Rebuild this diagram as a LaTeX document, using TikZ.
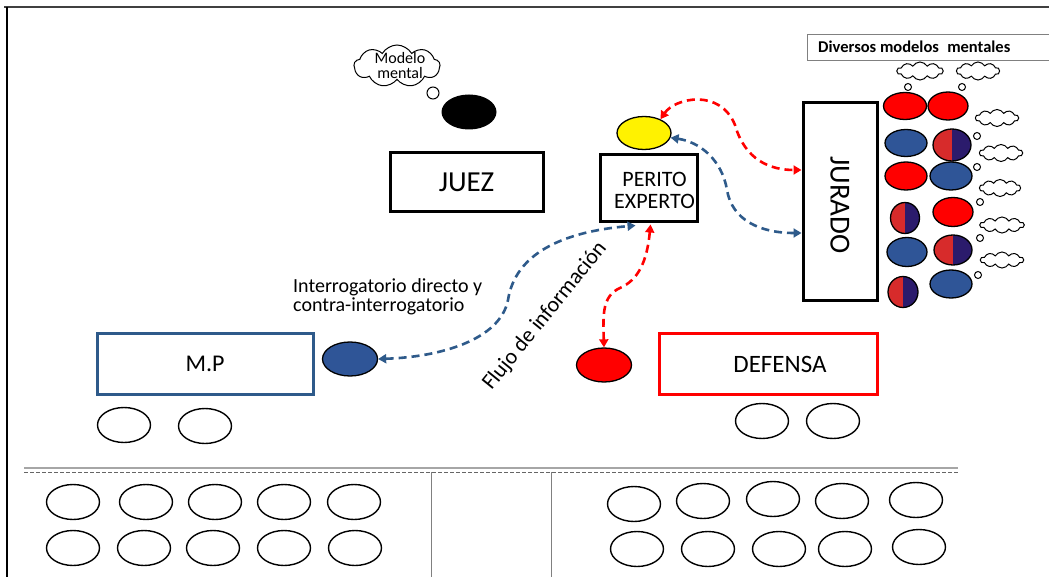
\documentclass[tikz,border=0pt]{standalone}
\usepackage{fontspec}
\setmainfont{Carlito}
\usetikzlibrary{shapes.geometric,shapes.symbols,arrows.meta,calc}

\definecolor{mpblue}{HTML}{2F5597}
\definecolor{lineblue}{HTML}{2E5A8A}
\definecolor{halfred}{HTML}{D72B2B}
\definecolor{halfnavy}{HTML}{2B1B6C}
\definecolor{framegray}{HTML}{404040}

\begin{document}
\begin{tikzpicture}[x=1pt,y=-1pt,
  seat/.style={ellipse,draw=black,line width=1.4pt,minimum width=53pt,minimum height=35pt,inner sep=0pt},
  juror/.style={ellipse,draw=black,line width=1.3pt,inner sep=0pt},
  redj/.style={juror,fill=red},
  bluej/.style={juror,fill=mpblue},
  splitj/.style={juror,path picture={
     \fill[halfred] (path picture bounding box.north west) rectangle (path picture bounding box.south);
     \fill[halfnavy] (path picture bounding box.north) rectangle (path picture bounding box.south east);}},
  thought/.style={cloud,cloud puffs=10,cloud puff arc=120,cloud ignores aspect,draw=black,line width=1pt,inner sep=0pt},
  bubble/.style={circle,draw=black,line width=1pt,inner sep=0pt,minimum size=7pt},
  roombox/.style={rectangle,draw=black,line width=3pt,inner sep=0pt},
  flowred/.style={draw=red,line width=2.6pt,dash pattern=on 8pt off 5pt,{Triangle[length=8pt,width=9pt]}-{Triangle[length=8pt,width=9pt]}},
  flowblue/.style={draw=lineblue,line width=2.6pt,dash pattern=on 8pt off 5pt,{Triangle[length=8pt,width=9pt]}-{Triangle[length=8pt,width=9pt]}},
  txt/.style={inner sep=0pt,text=black}
]
\useasboundingbox (0,0) rectangle (1049,577);
\fill[white] (0,0) rectangle (1049,577);
\clip (0,0) rectangle (1049,577);

% page frame
\draw[framegray,line width=2pt] (4,7) -- (1049,7);
\draw[black,line width=2pt] (7,7) -- (7,577);

% judge and the judge's mental model
\node[roombox,minimum width=153pt,minimum height=59pt,font=\fontsize{29}{34}\selectfont] (juez) at (466.5,182.5) {JUEZ};
\node[ellipse,fill=black,minimum width=55pt,minimum height=35pt,inner sep=0pt] (judgehead) at (469,112) {};
\node[bubble,minimum size=12pt] (judgebubble) at (433,93) {};
\node[thought,cloud puffs=9,minimum width=86pt,minimum height=42pt] (judgecloud) at (397,66) {};
\node[txt,align=center,font=\fontsize{16}{15}\selectfont] (cloudtext) at (400,66) {Modelo\\mental};

% expert witness
\node[ellipse,draw=black,line width=1.3pt,fill=yellow,minimum width=54pt,minimum height=33pt,inner sep=0pt] (exp) at (644,133) {};
\node[roombox,minimum width=97pt,minimum height=67pt] (perito) at (648.5,188.5) {};
\node[txt,align=center,font=\fontsize{22}{22}\selectfont] (peritotext) at (654.5,190) {PERITO\\EXPERTO};

% jury
\node[roombox,minimum width=74pt,minimum height=197pt] (jurado) at (840,201.5) {};
\node[txt,rotate=-90,font=\fontsize{29}{34}\selectfont] (juradotext) at (840,205) {JURADO};
\node[draw=gray,line width=1.2pt,anchor=north west,minimum width=250pt,minimum height=26pt,inner sep=0pt] (divbox) at (807,34) {};
\node[txt,anchor=west,font=\fontsize{16.5}{20}\selectfont\bfseries] (divtext) at (818,47)
  {Diversos modelos\hspace{0.5em}mentales};

\node[redj,minimum width=43pt,minimum height=27pt] (j11) at (905,106) {};
\node[bluej,minimum width=42pt,minimum height=27pt] (j12) at (906,143) {};
\node[redj,minimum width=42pt,minimum height=28pt] (j13) at (906,176) {};
\node[splitj,minimum width=29pt,minimum height=31pt] (j14) at (905,218) {};
\node[bluej,minimum width=40pt,minimum height=29pt] (j15) at (907,252) {};
\node[splitj,minimum width=30pt,minimum height=31pt] (j16) at (903,292) {};
\node[redj,minimum width=40pt,minimum height=28pt] (j21) at (948,106) {};
\node[splitj,minimum width=38pt,minimum height=32pt] (j22) at (952,145) {};
\node[bluej,minimum width=42pt,minimum height=28pt] (j23) at (951,176) {};
\node[redj,minimum width=40pt,minimum height=29pt] (j24) at (953,212) {};
\node[splitj,minimum width=38pt,minimum height=30pt] (j25) at (953,250) {};
\node[bluej,minimum width=42pt,minimum height=28pt] (j26) at (951,284) {};

% jurors' thoughts
\node[thought,minimum width=46pt,minimum height=18pt] (t1) at (920,71) {};
\node[thought,minimum width=43pt,minimum height=18pt] (t2) at (978,71) {};
\node[thought,minimum width=43pt,minimum height=17pt] (t3) at (997,118) {};
\node[thought,minimum width=43pt,minimum height=17pt] (t4) at (1001,153) {};
\node[thought,minimum width=41pt,minimum height=17pt] (t5) at (1000,188) {};
\node[thought,minimum width=44pt,minimum height=16pt] (t6) at (1002,225) {};
\node[thought,minimum width=43pt,minimum height=16pt] (t7) at (1002,260) {};
\node[bubble] (b1) at (908,87) {};
\node[bubble] (b2) at (962,87) {};
\node[bubble] (b3) at (977,136) {};
\node[bubble] (b4) at (977,167) {};
\node[bubble] (b5) at (980,202) {};
\node[bubble] (b6) at (980,238) {};
\node[bubble] (b7) at (978,275) {};

% prosecution and defence
\node[rectangle,draw=lineblue,line width=3pt,minimum width=216pt,minimum height=61pt,inner sep=0pt,font=\fontsize{24}{28}\selectfont] (mp) at (205,363.5) {M.P};
\node[ellipse,draw=black,line width=1.3pt,fill=mpblue,minimum width=55pt,minimum height=34pt,inner sep=0pt] (bdot) at (350,359) {};
\node[seat] (mp1) at (124,425) {};
\node[seat] (mp2) at (205,426) {};

\node[rectangle,draw=red,line width=3pt,minimum width=218pt,minimum height=61pt,inner sep=0pt] (defensa) at (768,363.5) {};
\node[txt,font=\fontsize{25}{30}\selectfont] (defensatext) at (780,364) {DEFENSA};
\node[ellipse,draw=black,line width=1.3pt,fill=red,minimum width=55pt,minimum height=34pt,inner sep=0pt] (rdot) at (604,365) {};
\node[seat] (df1) at (762,421) {};
\node[seat] (df2) at (833,421) {};

% labels
\node[txt,align=left,anchor=west,font=\fontsize{20}{19.5}\selectfont] (interrog) at (293,297)
  {Interrogatorio directo y\\contra-interrogatorio};
\node[txt,rotate=51,font=\fontsize{22}{26}\selectfont] (flujo) at (545,316) {Flujo de información};

% connector end points on the boxes
\coordinate (jr) at ([yshift=31.5pt]jurado.west);
\coordinate (jb) at ([yshift=-31.5pt]jurado.west);
\coordinate (pb) at ([xshift=-13pt,yshift=-2pt]perito.south);
\coordinate (pr) at ([xshift=2pt,yshift=-1pt]perito.south);

% information flows
\draw[flowred] (exp.40) .. controls (675,98) and (720,88) .. (735,125) .. controls (745,160) and (770,170) .. (jr);
\draw[flowblue] (exp.-10) .. controls (700,142) and (722,160) .. (727,190) .. controls (732,220) and (760,233) .. (jb);
\draw[flowblue] (bdot.east) .. controls (440,357) and (500,340) .. (508,300) .. controls (515,255) and (560,232) .. (pb);
\draw[flowred] (rdot.north) .. controls (603,315) and (602,296) .. (620,288) .. controls (638,280) and (647,262) .. (pr);

% public gallery
\draw[gray!70,line width=1.2pt] (24,468) -- (958,468);
\draw[gray!80!black,line width=1pt,dash pattern=on 4pt off 2pt] (24,472) -- (958,472);
\draw[gray,line width=0.8pt] (431,472) -- (431,577);
\draw[gray,line width=0.8pt] (551,472) -- (551,577);

\foreach \x [count=\i] in {73,146,215,284,354} {\node[seat] (gl1\i) at (\x,502) {};}
\foreach \x [count=\i] in {73,144,213,284,355} {\node[seat] (gl2\i) at (\x,548) {};}
\foreach \x/\y [count=\i] in {634/504,703/501,773/499,842/501,916/500} {\node[seat] (gr1\i) at (\x,\y) {};}
\foreach \x/\y [count=\i] in {637/549,708/549,779/549,845/549,919/547} {\node[seat] (gr2\i) at (\x,\y) {};}
\end{tikzpicture}
\end{document}
